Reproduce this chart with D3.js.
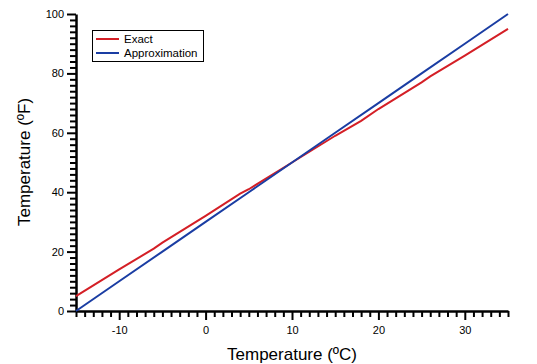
<!DOCTYPE html>
<html><head><meta charset="utf-8">
<script src="https://cdn.jsdelivr.net/npm/d3@7"></script>
<style>body{margin:0;background:#fff}svg{display:block}text{font-family:Arial,"Liberation Sans",sans-serif}</style>
</head><body>
<svg id="c" width="537" height="364"></svg>
<script>
const celsius = [-15,-10,-6,-5,0,4,5,10,15,18,20,25,26,30,35];
const exact   = [5,14,21,23,32,39.5,41,50,59,64,68,77,79,86,95];
const approxC = [-15,-10,-5,0,5,10,15,20,25,30,35];
const approx  = [0,10,20,30,40,50,60,70,80,90,100];
const xTicks = [-10,0,10,20,30];
const yTicks = [0,20,40,60,80,100];
const seriesNames = ["Exact","Approximation"];
const colors = ["#d41f26","#1a3da3"];

const svg = d3.select("#c");
const m = {l:76, r:508, t:14, b:311};
const x = d3.scaleLinear().domain([-15,35]).range([m.l,m.r]);
const y = d3.scaleLinear().domain([0,100]).range([m.b,m.t]);
const fmt = d => String(d);

const xMinor = d3.range(-15,36,1).filter(v=>!xTicks.includes(v));
const yMinor = d3.range(0,101,2).filter(v=>!yTicks.includes(v));

const gx = svg.append("g").attr("transform",`translate(0,${m.b})`);
gx.call(d3.axisBottom(x).tickValues(xMinor).tickSize(6).tickFormat("")).call(g=>g.select(".domain").remove());
gx.call(g=>g.selectAll(".tick line").attr("stroke","#000").attr("stroke-width",2));
const gx2 = svg.append("g").attr("transform",`translate(0,${m.b})`)
  .call(d3.axisBottom(x).tickValues(xTicks).tickFormat(fmt).tickSize(9).tickPadding(6).tickSizeOuter(0));
gx2.select(".domain").attr("stroke-width",2.5);
gx2.selectAll(".tick line").attr("stroke-width",2);
gx2.selectAll("text").attr("font-size",11).attr("fill","#000").attr("font-family","Arial,'Liberation Sans',sans-serif");

const gy = svg.append("g").attr("transform",`translate(${m.l},0)`);
gy.call(d3.axisLeft(y).tickValues(yMinor).tickSize(6).tickFormat("")).call(g=>g.select(".domain").remove());
gy.call(g=>g.selectAll(".tick line").attr("stroke","#000").attr("stroke-width",2));
const gy2 = svg.append("g").attr("transform",`translate(${m.l},0)`)
  .call(d3.axisLeft(y).tickValues(yTicks).tickFormat(fmt).tickSize(9).tickPadding(3).tickSizeOuter(0));
gy2.select(".domain").attr("stroke-width",2.5);
gy2.selectAll(".tick line").attr("stroke-width",2);
gy2.selectAll("text").attr("font-size",11).attr("fill","#000").attr("font-family","Arial,'Liberation Sans',sans-serif");

const line = d3.line().x(d=>x(d[0])).y(d=>y(d[1]));
svg.append("path").datum(celsius.map((c,i)=>[c,exact[i]])).attr("d",line)
  .attr("fill","none").attr("stroke",colors[0]).attr("stroke-width",2);
svg.append("path").datum(approxC.map((c,i)=>[c,approx[i]])).attr("d",line)
  .attr("fill","none").attr("stroke",colors[1]).attr("stroke-width",2);

const lg = svg.append("g");
lg.append("rect").attr("x",92.5).attr("y",30.5).attr("width",111).attr("height",31)
  .attr("fill","#fff").attr("stroke","#000").attr("stroke-width",1);
seriesNames.forEach((n,i)=>{
  const yy = 39 + i*14;
  lg.append("line").attr("x1",96).attr("x2",119).attr("y1",yy).attr("y2",yy)
    .attr("stroke",colors[i]).attr("stroke-width",2);
  lg.append("text").attr("x",124).attr("y",yy+4).attr("font-size",11.5).text(n);
});

svg.append("text").attr("x",292).attr("y",360).attr("text-anchor","middle")
  .attr("font-size",17).text("Temperature (ºC)");
svg.append("text").attr("transform","translate(30,162) rotate(-90)").attr("text-anchor","middle")
  .attr("font-size",17).text("Temperature (ºF)");
</script>
</body></html>
